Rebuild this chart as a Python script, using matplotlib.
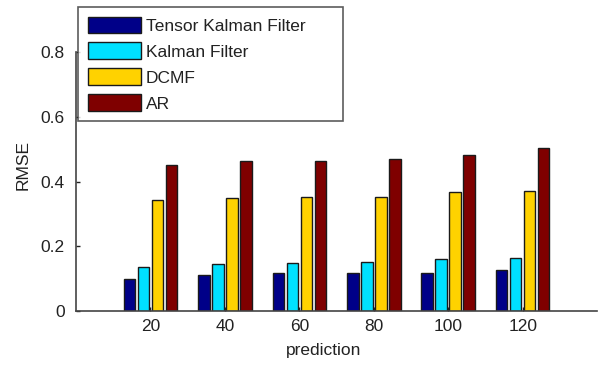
import matplotlib
matplotlib.use('Agg')
import matplotlib.pyplot as plt
import numpy as np

# horizon values and RMSE per method
prediction = [20, 40, 60, 80, 100, 120]
tensor_kf = [0.100, 0.112, 0.119, 0.119, 0.119, 0.126]
kalman = [0.137, 0.146, 0.149, 0.153, 0.161, 0.165]
dcmf = [0.344, 0.349, 0.352, 0.352, 0.367, 0.371]
ar = [0.452, 0.464, 0.464, 0.471, 0.483, 0.505]

labels = ['Tensor Kalman Filter', 'Kalman Filter', 'DCMF', 'AR']
colors = ['#000088', '#00E1FF', '#FFD200', '#7F0000']

plt.rcParams['font.family'] = ['Liberation Sans', 'DejaVu Sans']

fig = plt.figure(figsize=(6.13, 3.66), dpi=100)
ax = fig.add_axes([0.124, 0.150, 0.850, 0.708])

x = np.array(prediction, dtype=float)
step = 3.76
width = 3.1
series = [tensor_kf, kalman, dcmf, ar]
handles = []
for i, (vals, col) in enumerate(zip(series, colors)):
    h = ax.bar(x + (i - 1.5) * step, vals, width, color=col,
               edgecolor='#1a1a1a', linewidth=1.0, label=labels[i])
    handles.append(h)

ax.set_xlim(0, 140)
ax.set_ylim(0, 0.8)
ax.set_xticks(prediction)
ax.set_yticks([0, 0.2, 0.4, 0.6, 0.8])
ax.set_yticklabels(['0', '0.2', '0.4', '0.6', '0.8'])
ax.tick_params(direction='in', length=3, width=1, colors='#222222',
               labelsize=12.5, pad=6)
ax.tick_params(axis='y', pad=8)
for s in ['top', 'right']:
    ax.spines[s].set_visible(False)
for s in ['left', 'bottom']:
    ax.spines[s].set_color('#444444')
    ax.spines[s].set_linewidth(1.2)

ax.set_ylabel('RMSE', fontsize=12.5, color='#222222')
ax.set_xlabel('prediction', fontsize=12.5, color='#222222')
ax.yaxis.set_label_coords(-0.088, 0.564)
ax.xaxis.set_label_coords(0.475, -0.125)

# legend box spans x 78..343, y 7..118 px in the reference
x0, x1 = 78 / 613, 343 / 613
y0, y1 = 1 - 118 / 366, 1 - 7 / 366
leg = fig.legend(handles=handles, labels=labels,
                 loc='upper left', bbox_to_anchor=(x0, y0, x1 - x0, y1 - y0),
                 bbox_transform=fig.transFigure, mode='expand',
                 prop={'size': 12.5},
                 frameon=True, fancybox=False, edgecolor='#333333',
                 handlelength=3.1, handleheight=1.1, handletextpad=0.25,
                 labelspacing=0.5, borderpad=0.55, borderaxespad=0)
leg.get_frame().set_linewidth(1.2)
for t in leg.get_texts():
    t.set_color('#222222')

fig.savefig('out.png', dpi=100)
